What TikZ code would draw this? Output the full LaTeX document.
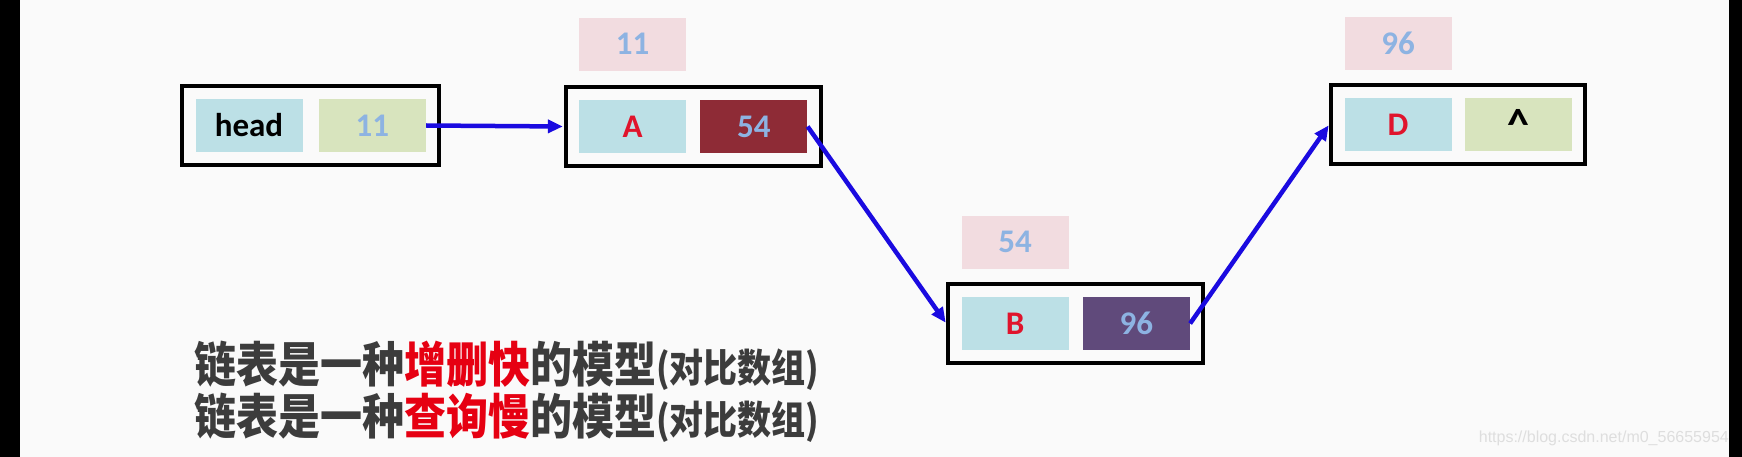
\documentclass[tikz,border=0pt]{standalone}
\usepackage{fontspec}
\usepackage{xcolor}
\usepackage{graphicx}
\usetikzlibrary{positioning,arrows.meta,fit}
\newfontfamily\cellfont{Carlito}
\newfontfamily\cjk{Noto Sans CJK SC}
\newfontfamily\markfont{Liberation Sans}
\definecolor{cellblue}{HTML}{BCE0E6}
\definecolor{ptrgreen}{HTML}{D8E4BE}
\definecolor{ptrmaroon}{HTML}{8E2B36}
\definecolor{ptrpurple}{HTML}{604A7B}
\definecolor{tagpink}{HTML}{F2DCE0}
\definecolor{numblue}{HTML}{8DB3E2}
\definecolor{letterred}{HTML}{E0142C}
\definecolor{linkblue}{HTML}{1A0AE0}
\definecolor{textgray}{HTML}{3C3C3C}
\definecolor{hotred}{HTML}{E60012}
\newcommand{\tallline}[1]{\scalebox{1}[1.15]{#1}}
\tikzset{
	cell/.style = {minimum width=107pt, minimum height=53pt, inner sep=0pt,
		font=\cellfont\bfseries\fontsize{33}{33}\selectfont},
	datacell/.style = {cell, fill=cellblue, text=letterred},
	ptrcell/.style = {cell, text=numblue},
	addrtag/.style = {cell, fill=tagpink, text=numblue},
	frame/.style = {draw, line width=4pt, inner sep=13pt},
	link/.style = {draw=linkblue, line width=4.5pt, shorten >=1pt},
	>={Triangle[length=15pt,width=13pt]}
}

\begin{document}
\begin{tikzpicture}[x=1pt, y=-1pt]
	\useasboundingbox (0,0) rectangle (1742,457);
	\fill[white!98!black] (0,0) rectangle (1742,457);
	
	% head
	\node[cell, fill=cellblue] (headname) at (249,125.5) {head};
	\node[ptrcell, fill=ptrgreen, right=16pt of headname] (headptr) {11};
	\node[frame, fit=(headname)(headptr)] (headbox) {};
	
	% A
	\node[datacell] (adata) at (632.5,126.5) {A};
	\node[ptrcell, fill=ptrmaroon, right=14pt of adata] (aptr) {54};
	\node[frame, fit=(adata)(aptr)] (abox) {};
	\node[addrtag, above=29pt of adata] (aaddr) {11};
	
	% B
	\node[datacell] (bdata) at (1015,323.5) {B};
	\node[ptrcell, fill=ptrpurple, right=14pt of bdata] (bptr) {96};
	\node[frame, fit=(bdata)(bptr)] (bbox) {};
	\node[addrtag, above=28pt of bdata] (baddr) {54};
	
	% D
	\node[datacell] (ddata) at (1398,124.5) {D};
	\node[ptrcell, fill=ptrgreen, text=black, right=13pt of ddata] (dptr) {\fontsize{44}{44}\selectfont\textasciicircum};
	\node[frame, fit=(ddata)(dptr)] (dbox) {};
	\node[addrtag, above=28pt of ddata] (daddr) {96};
	
	\draw[link, ->] (headptr.east) -- (abox.west);
	\draw[link, ->] (aptr.east) -- (bbox.west);
	\draw[link, ->] (bptr.east) -- (dbox.west);
	
	\node[anchor=west, align=left, inner sep=0pt, text=textgray,
		font=\cjk\bfseries\fontsize{42}{52}\selectfont] (note) at (194,392)
		{\tallline{链表是一种\textcolor{hotred}{增删快}的模型{\fontsize{34}{34}\selectfont(对比数组)}}\\
		\tallline{链表是一种\textcolor{hotred}{查询慢}的模型{\fontsize{34}{34}\selectfont(对比数组)}}};
	
	\node[anchor=base east, inner sep=0pt, text=black!13, font=\markfont\fontsize{16}{16}\selectfont]
		(mark) at (1729,442) {https://blog.csdn.net/m0\_56655954};
	
	\fill[black] (0,0) rectangle (20,457);
	\fill[black] (1729,0) rectangle (1742,457);
\end{tikzpicture}
\end{document}
